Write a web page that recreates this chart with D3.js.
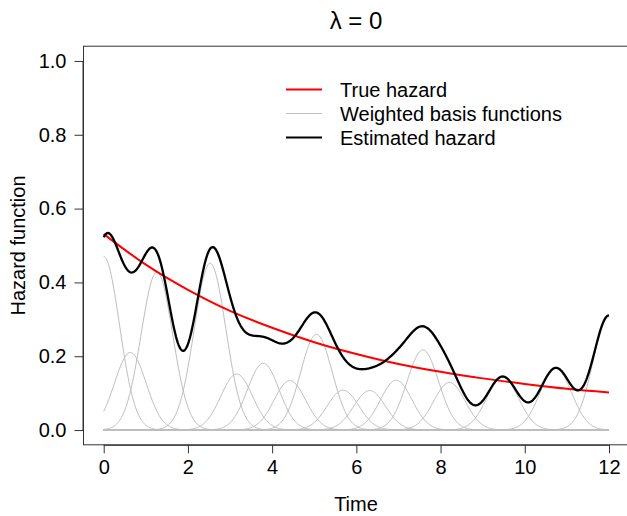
<!DOCTYPE html>
<html>
<head>
<meta charset="utf-8">
<script src="https://cdn.jsdelivr.net/npm/d3@7"></script>
<style>
  body { margin: 0; background: #fff; }
  svg { display: block; font-family: "Liberation Sans", Arial, sans-serif; }
</style>
</head>
<body>
<svg id="chart" width="627" height="516"></svg>
<script>
// knot positions of the basis functions and their fitted weights
let knots = [0, 0.632, 1.263, 1.895, 2.526, 3.158, 3.789, 4.421, 5.053, 5.684,
             6.316, 6.947, 7.579, 8.211, 8.842, 9.474, 10.105, 10.737, 11.368, 12]
let weights = [0.47, 0.21, 0.428, 0, 0.452, 0.152, 0.181, 0.134, 0.259, 0.108,
               0.107, 0.135, 0.217, 0.129, 0, 0.144, 0, 0.167, 0, 0.31]
let basisSd = 0.375

// true hazard sampled at whole time points
let trueTimes = [0, 1, 2, 3, 4, 5, 6, 7, 8, 9, 10, 11, 12]
let trueHazard = [0.531, 0.448, 0.380, 0.323, 0.277, 0.238, 0.206, 0.179, 0.158, 0.140, 0.125, 0.112, 0.102]

let xTicks = [0, 2, 4, 6, 8, 10, 12]
let yTicks = [0, 0.2, 0.4, 0.6, 0.8, 1.0]

let legendLabels = ["True hazard", "Weighted basis functions", "Estimated hazard"]
let legendColors = ["#ff0000", "#bebebe", "#000000"]
let legendWidths = [2, 1, 2]

let svg = d3.select("#chart")

let x = d3.scaleLinear().domain([-0.48, 12.48]).range([83.5, 629.2])
let y = d3.scaleLinear().domain([-0.04, 1.04]).range([444.8, 46.2])

let grid = d3.range(0, 12.0001, 0.02)
let bump = (t, c) => Math.exp(-((t - c) * (t - c)) / (2 * basisSd * basisSd))

let basisCurves = knots.map((c, i) => grid.map(t => [t, weights[i] * bump(t, c)]))
let estimated = grid.map(t => [t, d3.sum(knots, (c, i) => weights[i] * bump(t, c))])

let line = d3.line().x(d => x(d[0])).y(d => y(d[1]))

// gray basis functions
svg.append("g").selectAll("path")
    .data(basisCurves)
    .enter()
    .append("path")
    .attr("d", line)
    .attr("fill", "none")
    .attr("stroke", "#bebebe")
    .attr("stroke-width", 1)

// true hazard
svg.append("path")
    .datum(trueTimes.map((t, i) => [t, trueHazard[i]]))
    .attr("d", line.curve(d3.curveNatural))
    .attr("fill", "none")
    .attr("stroke", "#ff0000")
    .attr("stroke-width", 2)

line.curve(d3.curveLinear)

// estimated hazard
svg.append("path")
    .datum(estimated)
    .attr("d", line)
    .attr("fill", "none")
    .attr("stroke", "#000000")
    .attr("stroke-width", 2.3)

// box
svg.append("rect")
    .attr("x", 83.5).attr("y", 46.2)
    .attr("width", 629.2 - 83.5).attr("height", 444.8 - 46.2)
    .attr("fill", "none")
    .attr("stroke", "#333")
    .attr("stroke-width", 1)

// axes
let xAxis = d3.axisBottom(x).tickValues(xTicks).tickSize(8.5).tickPadding(6.5)
    .tickFormat(d3.format("d"))
let gx = svg.append("g").attr("transform", "translate(0,444.8)").call(xAxis)
gx.select(".domain").attr("d", "M" + x(0) + ",0.5H" + x(12))
gx.selectAll("text").attr("font-size", 20).attr("fill", "#000")
    .attr("font-family", "Liberation Sans, Arial, sans-serif")

let yAxis = d3.axisLeft(y).tickValues(yTicks).tickSize(9).tickPadding(8)
    .tickFormat(d3.format(".1f"))
let gy = svg.append("g").attr("transform", "translate(83.5,0)").call(yAxis)
gy.select(".domain").attr("d", "M-0.5," + y(0) + "V" + y(1))
gy.selectAll("text").attr("font-size", 20).attr("fill", "#000")
    .attr("font-family", "Liberation Sans, Arial, sans-serif")
svg.selectAll(".tick line").attr("stroke", "#333")
svg.selectAll(".domain").attr("stroke", "#333")

// titles
svg.append("text")
    .attr("x", 356).attr("y", 29)
    .attr("text-anchor", "middle")
    .attr("font-size", 24)
    .text("λ = 0")

svg.append("text")
    .attr("x", 356).attr("y", 511)
    .attr("text-anchor", "middle")
    .attr("font-size", 20)
    .text("Time")

svg.append("text")
    .attr("transform", "translate(25,245.5) rotate(-90)")
    .attr("text-anchor", "middle")
    .attr("font-size", 20)
    .text("Hazard function")

// legend
let legend = svg.append("g").selectAll("g")
    .data(legendLabels)
    .enter()
    .append("g")
    .attr("transform", (d, i) => "translate(0," + (89.5 + i * 24) + ")")

legend.append("line")
    .attr("x1", 286).attr("x2", 322)
    .attr("stroke", (d, i) => legendColors[i])
    .attr("stroke-width", (d, i) => legendWidths[i])

legend.append("text")
    .attr("x", 340).attr("dy", "0.35em")
    .attr("font-size", 20)
    .text(d => d)
</script>
</body>
</html>
